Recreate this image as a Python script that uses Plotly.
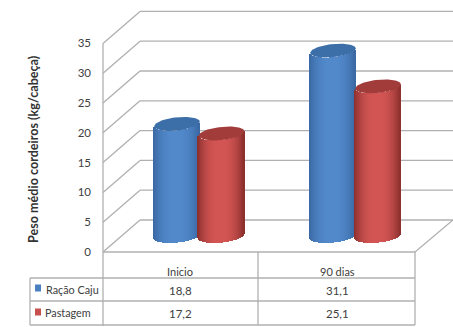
import numpy as np
import plotly.graph_objects as go

# Dados do gráfico
categorias = ["Inicio", "90 dias"]
series = ["Ração Caju", "Pastagem"]
racao_caju = [18.8, 31.1]
pastagem = [17.2, 25.1]
rotulos_racao = ["18,8", "31,1"]
rotulos_pastagem = ["17,2", "25,1"]
ticks_y = [0, 5, 10, 15, 20, 25, 30, 35]

W, H = 453, 327
UNIT = 5.96          # pixels por kg
Y0 = 252             # linha do zero, em pixels
GRID = "#b0b0b0"
TXT = "#404040"
FONT = "Lato"

DX, DY = 37, 32 / UNIT   # profundidade do piso
BASE = 16 / UNIT         # os cilindros ficam no meio do piso
A, B, TILT = 22.8, 6.6 / UNIT, 2.2 / UNIT

CENTROS = {"Ração Caju": [177, 333], "Pastagem": [221.5, 378]}
ESTILO = {
    "Ração Caju": dict(edge=(58, 104, 163), mid=(82, 138, 204), cap="#3c6ea8", sw="#4a80c0"),
    "Pastagem": dict(edge=(140, 48, 46), mid=(212, 86, 84), cap="#a13c3a", sw="#c8504e"),
}


def cor(c, t):
    k = np.clip(1 - abs(t) ** 2.4, 0, 1)
    r = [int(c["edge"][i] + (c["mid"][i] - c["edge"][i]) * k) for i in range(3)]
    return f"rgb({r[0]},{r[1]},{r[2]})"


def py(px):
    return 1 - px / H


fig = go.Figure()


def cilindro(cx, valor, estilo):
    xs = np.arange(int(cx - A), int(cx + A) + 1)
    t = np.clip((xs + 0.5 - cx) / A, -1, 1)
    base = BASE - B * np.sqrt(1 - t**2) + TILT * t
    fig.add_trace(go.Bar(
        x=xs + 0.5, y=[valor] * len(xs), base=base, width=1.02,
        marker=dict(color=[cor(estilo, v) for v in t], line_width=0),
        showlegend=False, hoverinfo="skip",
    ))
    th = np.linspace(0, 2 * np.pi, 80)
    fig.add_trace(go.Scatter(
        x=cx + A * np.cos(th),
        y=BASE + valor + B * np.sin(th) + TILT * np.cos(th),
        mode="lines", fill="toself", fillcolor=estilo["cap"],
        line=dict(width=0, color=estilo["cap"]),
        showlegend=False, hoverinfo="skip",
    ))


for nome, valores in zip(series, [racao_caju, pastagem]):
    for cx, v in zip(CENTROS[nome], valores):
        cilindro(cx, v, ESTILO[nome])

shapes = []


def linha(x0, y0, x1, y1, xref="x", yref="y", w=1.3):
    shapes.append(dict(type="line", x0=x0, y0=y0, x1=x1, y1=y1, xref=xref, yref=yref,
                       line=dict(color=GRID, width=w), layer="below"))


# Paredes: diagonais e linhas de grade do fundo
for v in ticks_y:
    linha(103, v, 103 + DX, v + DY)
    linha(103 + DX, v + DY, W, v + DY)

# Eixo vertical e piso
linha(103, 35, 103, -(326 - Y0) / UNIT)
linha(103, 0, 415, 0)
linha(415, 0, W, DY)

# Tabela de dados
LIN = [278, 301, 325]
for p in LIN:
    linha(30, py(p), 415, py(p), yref="paper")
linha(30, py(278), 30, py(325), yref="paper")
linha(258, py(252), 258, py(325), yref="paper")
linha(415, py(252), 415, py(325), yref="paper")

anot = []


def texto(x, p, s, anchor="center", **kw):
    f = dict(family=FONT, size=11.5, color=TXT)
    f.update(kw)
    anot.append(dict(x=x, y=py(p), xref="x", yref="paper", text=s, showarrow=False,
                     xanchor=anchor, yanchor="middle", font=f))


X_COL = [180, 337]
for x, cat, a, b in zip(X_COL, categorias, rotulos_racao, rotulos_pastagem):
    texto(x, 271, cat, size=11)
    texto(x, 290, a)
    texto(x, 313, b)

# Legenda embutida na tabela
texto(43.5, 289, series[0], "left", size=10.8)
texto(42.5, 312, series[1], "left", size=10.8)
for nome, p in zip(series, [288, 312]):
    shapes.append(dict(type="rect", x0=35, x1=41, y0=py(p - 3.5), y1=py(p + 3.5), xref="x",
                       yref="paper", fillcolor=ESTILO[nome]["sw"], line_width=0))

anot.append(dict(x=33, y=py(150), xref="x", yref="paper", text="<b>Peso médio cordeiros (kg/cabeça)</b>",
                 textangle=-90, showarrow=False, xanchor="center", yanchor="middle",
                 font=dict(family=FONT, size=12.6, color="#333333")))

fig.update_layout(
    width=W, height=H, margin=dict(l=0, r=0, t=0, b=0), autosize=False,
    paper_bgcolor="white", plot_bgcolor="white", barmode="overlay", bargap=0,
    shapes=shapes, annotations=anot, showlegend=False,
    xaxis=dict(range=[0, W], visible=False, fixedrange=True),
    yaxis=dict(
        range=[-(H - Y0) / UNIT, Y0 / UNIT], anchor="free", position=103 / W,
        tickmode="array", tickvals=ticks_y, ticktext=[str(v) for v in ticks_y],
        showgrid=False, zeroline=False, showline=False, ticks="",
        ticklabelstandoff=12, tickfont=dict(family=FONT, size=11.5, color=TXT),
        fixedrange=True,
    ),
)

fig.write_html("out.html", config=dict(displayModeBar=False))
